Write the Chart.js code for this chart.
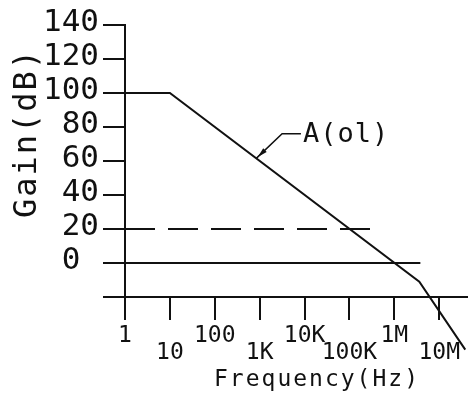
<!DOCTYPE html>
<html lang="en">
  <head>
    <meta charset="UTF-8" />
    <title>Open-loop gain A(ol)</title>
    <script src="https://cdn.jsdelivr.net/npm/chart.js"></script>
    <style>
      * {
        margin: 0;
        padding: 0;
        box-sizing: border-box;
      }
      body {
        background-color: #ffffff;
        width: 469px;
        height: 396px;
        overflow: hidden;
      }
      #wrap {
        position: relative;
        width: 469px;
        height: 396px;
      }
    </style>
  </head>
  <body>
    <div id="wrap"><canvas id="gainChart"></canvas></div>

    <script>
      // x axis ticks (Hz) and labels
      const freqTicks = [1, 10, 100, 1e3, 1e4, 1e5, 1e6, 1e7];
      const freqLabels = ["1", "10", "100", "1K", "10K", "100K", "1M", "10M"];
      // y axis ticks (dB), -20 is where the frequency axis sits (no label)
      // the "0" sits a bit further left in the drawing, hence the space
      const gainTicks = [-20, 0, 20, 40, 60, 80, 100, 120, 140];
      const gainLabels = ["", "0 ", "20", "40", "60", "80", "100", "120", "140"];

      // open-loop gain curve
      const aolFreq = [1, 10, 3.6e6, 3.8e7];
      const aolGain = [100, 100, -11, -51];
      // dashed 20 dB line
      const dashFreq = [1, 4.2e5];
      const dashGain = [20, 20];
      // 0 dB line
      const zeroFreq = [1, 3.8e6];
      const zeroGain = [0, 0];
      // leader from the curve to its name
      const leaderFreq = [840, 3160, 8300];
      const leaderGain = [61.5, 76, 76];

      const curveName = "A(ol)";
      const xTitle = "Frequency(Hz)";
      const yTitle = "Gain(dB)";

      const INK = "#111111";
      const FONT = "'DejaVu Sans Mono', monospace";

      function toPoints(xs, ys) {
        return xs.map((x, i) => ({ x, y: ys[i] }));
      }

      // axis titles, curve name and the little arrow on the leader
      const cadText = {
        id: "cadText",
        afterDraw(chart) {
          const { ctx, scales } = chart;
          const sx = scales.x;
          const sy = scales.y;
          ctx.save();
          ctx.fillStyle = INK;
          ctx.textBaseline = "middle";

          // y title, rotated
          ctx.save();
          ctx.font = "32px " + FONT;
          ctx.letterSpacing = "2px";
          ctx.textAlign = "center";
          ctx.translate(28, 133);
          ctx.rotate(-Math.PI / 2);
          ctx.fillText(yTitle, 0, 0);
          ctx.restore();

          // x title
          ctx.font = "23px " + FONT;
          ctx.letterSpacing = "2px";
          ctx.textAlign = "center";
          ctx.fillText(xTitle, 317, 380);

          // leader arrow
          const p0 = {
            x: sx.getPixelForValue(leaderFreq[0]),
            y: sy.getPixelForValue(leaderGain[0]),
          };
          const p1 = {
            x: sx.getPixelForValue(leaderFreq[1]),
            y: sy.getPixelForValue(leaderGain[1]),
          };
          const len = Math.hypot(p1.x - p0.x, p1.y - p0.y);
          const ux = (p1.x - p0.x) / len;
          const uy = (p1.y - p0.y) / len;
          ctx.beginPath();
          ctx.moveTo(p0.x + ux * 2, p0.y + uy * 2);
          ctx.lineTo(p0.x + ux * 12 - uy * 2.5, p0.y + uy * 12 + ux * 2.5);
          ctx.lineTo(p0.x + ux * 12 + uy * 2.5, p0.y + uy * 12 - ux * 2.5);
          ctx.closePath();
          ctx.fill();

          // curve name
          const last = leaderFreq.length - 1;
          ctx.font = "27px " + FONT;
          ctx.letterSpacing = "1px";
          ctx.textAlign = "left";
          ctx.fillText(
            curveName,
            sx.getPixelForValue(leaderFreq[last]) + 2,
            sy.getPixelForValue(leaderGain[last]) + 1
          );
          ctx.restore();
        },
      };

      const line = { borderColor: INK, borderWidth: 2, pointRadius: 0, tension: 0, fill: false };

      const ctx = document.getElementById("gainChart").getContext("2d");
      new Chart(ctx, {
        type: "line",
        data: {
          datasets: [
            { ...line, data: toPoints(aolFreq, aolGain), clip: false },
            { ...line, data: toPoints(dashFreq, dashGain), borderDash: [30, 13] },
            { ...line, data: toPoints(zeroFreq, zeroGain) },
            { ...line, data: toPoints(leaderFreq, leaderGain), borderWidth: 1.5 },
          ],
        },
        options: {
          responsive: true,
          maintainAspectRatio: false,
          animation: false,
          layout: { padding: { left: 0, right: 0, top: 25, bottom: 77 } },
          plugins: {
            legend: { display: false },
            tooltip: { enabled: false },
          },
          scales: {
            x: {
              type: "logarithmic",
              min: 1,
              max: 4.2e7,
              position: { y: -20 },
              afterBuildTicks: (s) => {
                s.ticks = freqTicks.map((v) => ({ value: v }));
              },
              grid: {
                drawOnChartArea: false,
                tickLength: 22,
                color: INK,
                lineWidth: 2,
              },
              border: { display: true, color: INK, width: 2 },
              ticks: {
                autoSkip: false,
                maxRotation: 0,
                padding: 9,
                color: INK,
                font: { family: FONT, size: 23, lineHeight: "17px" },
                // every second label sits one line lower
                callback: (v, i) =>
                  i % 2 ? ["", freqLabels[i]] : freqLabels[i],
              },
            },
            y: {
              min: -33,
              max: 140,
              afterBuildTicks: (s) => {
                s.ticks = gainTicks.map((v) => ({ value: v }));
              },
              afterFit: (s) => {
                s.width = 125;
              },
              grid: {
                drawOnChartArea: false,
                tickLength: 22,
                color: INK,
                lineWidth: 2,
              },
              border: { display: true, color: INK, width: 2 },
              ticks: {
                autoSkip: false,
                padding: 4,
                labelOffset: -2,
                color: INK,
                font: { family: FONT, size: 31 },
                callback: (v, i) => gainLabels[i],
              },
            },
          },
        },
        plugins: [cadText],
      });
    </script>
  </body>
</html>
